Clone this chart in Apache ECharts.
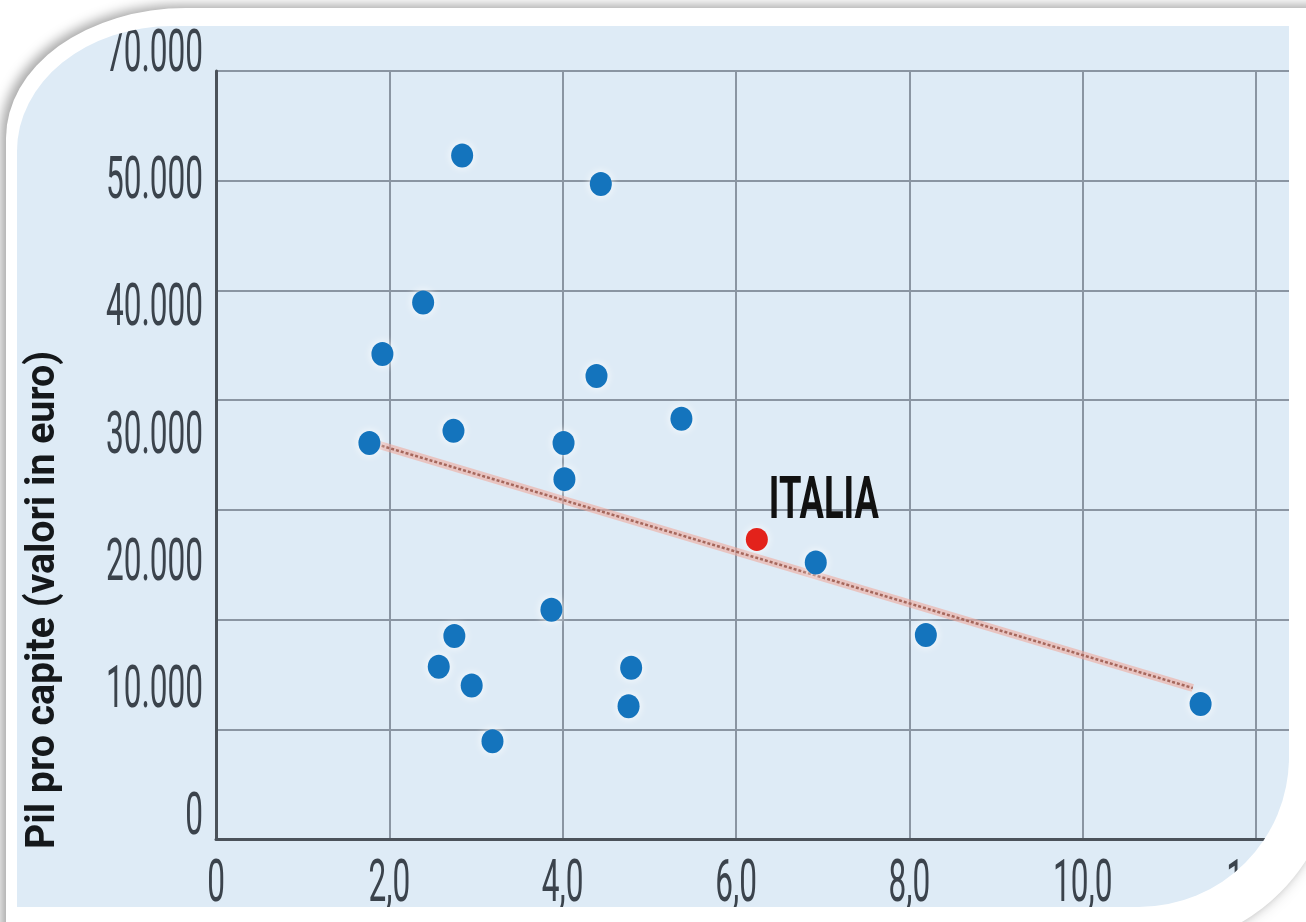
<!DOCTYPE html>
<html>
<head>
<meta charset="utf-8">
<script src="https://cdn.jsdelivr.net/npm/echarts@6/dist/echarts.min.js"></script>
<style>
  html, body { margin:0; padding:0; width:1306px; height:922px; overflow:hidden; background:#ffffff; }
  #topband { position:absolute; left:0; top:0; width:1306px; height:8px; background:linear-gradient(#bdbdbd,#d4d4d4); }
  #corner { position:absolute; left:0; top:0; width:220px; height:160px;
            background:radial-gradient(ellipse at 0% 100%, #9a9a9a 0%, #c4c4c4 45%, #e6e6e6 80%, #ffffff 100%); }
  #leftstrip { position:absolute; left:4px; top:40px; width:14px; height:820px;
            background:linear-gradient(to right, #f2f2f2, #a8a8a8 55%, #cfcfcf);
            -webkit-mask-image:linear-gradient(#000 0%, #000 75%, transparent 100%); }
  #frame { position:absolute; left:6px; top:8px; width:1330px; height:940px; background:#ffffff;
           border-top-left-radius:180px 130px; border-bottom-right-radius:190px;
           box-shadow:-5px -3px 12px rgba(0,0,0,0.35); }
  #shadowbr { position:absolute; left:0; top:0; width:1316px; height:934px;
           border-bottom-right-radius:180px; box-shadow:8px 8px 20px rgba(0,0,0,0.45); background:#ffffff; }
  #chart { position:absolute; left:17px; top:26px; width:1272px; height:881px; background:#deebf6;
           border-top-left-radius:155px 125px; border-bottom-right-radius:150px; overflow:hidden; }
</style>
</head>
<body>
<div id="topband"></div>
<div id="corner"></div>
<div id="leftstrip"></div>
<div id="shadowbr"></div>
<div id="frame"></div>
<div id="chart"></div>
<script>
// ---- data ----
const xTickLabels = ['0', '2,0', '4,0', '6,0', '8,0', '10,0', '12,0'];
const yTickLabels = ['0', '10.000', '20.000', '30.000', '40.000', '50.000', '70.000'];
const yAxisTitle = 'Pil pro capite (valori in euro)';

const countryX = [2.84, 4.44, 2.39, 1.92, 4.39, 5.37, 1.77, 2.74, 4.01, 4.02,
                  3.87, 2.75, 2.57, 2.95, 3.19, 4.79, 4.76, 6.92, 8.19, 11.36];
const countryY = [62300, 59700, 48900, 44200, 42200, 38300, 36100, 37200, 36100, 32800,
                  20900, 18500, 15700, 14000, 8900, 15600, 12100, 25200, 18600, 12300];

const italyName = 'ITALIA';
const italyX = [6.24];
const italyY = [27300];

const trendX = [1.80, 11.27];
const trendY = [36100, 13760];

// ---- fonts (condensed look obtained by horizontal text scaling) ----
const FONT = 'Roboto';
const mctx = document.createElement('canvas').getContext('2d');
function textW(t, size, weight) { mctx.font = (weight || 'normal') + ' ' + size + 'px ' + FONT; return mctx.measureText(t).width; }
const AXIS_SIZE = 60;
const axisScale = 97 / textW('70.000', AXIS_SIZE);
const ITALIA_SIZE = 60;
const italiaScale = 110 / textW(italyName, ITALIA_SIZE, 'bold');
const TITLE_SIZE = 41;
const titleScale = 498 / textW(yAxisTitle, TITLE_SIZE, 'bold');

// ---- chart ----
const chart = echarts.init(document.getElementById('chart'), null, { renderer: 'canvas' });
const pts = countryX.map((x, i) => [x, countryY[i]]);
const italy = italyX.map((x, i) => [x, italyY[i]]);
const trend = trendX.map((x, i) => [x, trendY[i]]);
const isInt = v => Math.abs(v - Math.round(v)) < 1e-6;

const option = {
  animation: false,
  backgroundColor: 'transparent',
  grid: { left: 199, top: 45, right: 0, bottom: 68, outerBoundsMode: 'none', containLabel: false },
  xAxis: {
    type: 'value', min: 0, max: 12.38, interval: 2,
    axisLine: { show: true, lineStyle: { color: '#4b525a', width: 3 } },
    axisTick: { show: false },
    splitLine: { show: true, showMinLine: false, showMaxLine: false, lineStyle: { color: '#8a95a2', width: 2 } },
    axisLabel: {
      show: true, margin: 25, color: '#3b434c', fontFamily: FONT, fontSize: AXIS_SIZE, lineHeight: 44,
      hideOverlap: false,
      formatter: v => (isInt(v / 2) ? xTickLabels[Math.round(v / 2)] : '')
    }
  },
  yAxis: [
    {
      type: 'value', min: 0, max: 70000, interval: 10000, position: 'left',
      axisLine: { show: true, lineStyle: { color: '#4b525a', width: 3 } },
      axisTick: { show: false },
      axisLabel: { show: false },
      splitLine: { show: true, showMinLine: false, lineStyle: { color: '#8a95a2', width: 2 } }
    },
    {
      type: 'value', min: 0, max: 6.04, interval: 1, position: 'left',
      axisLine: { show: false }, axisTick: { show: false }, splitLine: { show: false },
      axisLabel: {
        show: true, margin: 13, color: '#3b434c', fontFamily: FONT, fontSize: AXIS_SIZE,
        verticalAlign: 'bottom', lineHeight: 40, hideOverlap: false,
        formatter: v => (isInt(v) ? yTickLabels[Math.round(v)] : '')
      }
    }
  ],
  graphic: [{
    type: 'text', x: 44 - 17, y: 600 - 26, rotation: Math.PI / 2, scaleX: titleScale,
    style: { text: yAxisTitle, fill: '#15181b', font: 'bold ' + TITLE_SIZE + 'px ' + FONT,
             align: 'center', verticalAlign: 'middle' }
  }],
  series: [
    {
      type: 'line', data: trend, symbol: 'none', silent: true, z: 2,
      lineStyle: { color: 'rgba(238,170,158,0.6)', width: 8 }
    },
    {
      type: 'line', data: trend, symbol: 'none', silent: true, z: 3,
      lineStyle: { color: '#a5675c', width: 2.5, type: [3, 2] }
    },
    {
      type: 'scatter', data: pts, symbol: 'circle', symbolSize: [22, 24], z: 5,
      itemStyle: { color: '#1474bd', opacity: 1, shadowBlur: 8, shadowColor: 'rgba(255,255,255,0.95)' }
    },
    {
      type: 'scatter', data: italy, symbol: 'circle', symbolSize: [22, 23], z: 6,
      itemStyle: { color: '#e3221b', opacity: 1, shadowBlur: 8, shadowColor: 'rgba(255,255,255,0.95)' },
      label: {
        show: true, position: 'right', distance: 1, offset: [0, -36],
        formatter: italyName, color: '#111111', fontWeight: 'bold', fontSize: ITALIA_SIZE,
        fontFamily: FONT
      }
    }
  ]
};
chart.setOption(option);

// condense the axis tick labels and the ITALIA label horizontally (about their anchor)
const zr = chart.getZr();
zr.storage.getDisplayList(true).forEach(el => {
  const t = el.style && el.style.text;
  if (t == null || t === '') return;
  if (yTickLabels.indexOf(t) >= 0 || xTickLabels.indexOf(t) >= 0) {
    el.scaleX = axisScale; el.markRedraw();
  } else if (t === italyName) {
    el.scaleX = italiaScale; el.markRedraw();
  }
});
zr.refreshImmediately();
</script>
</body>
</html>
